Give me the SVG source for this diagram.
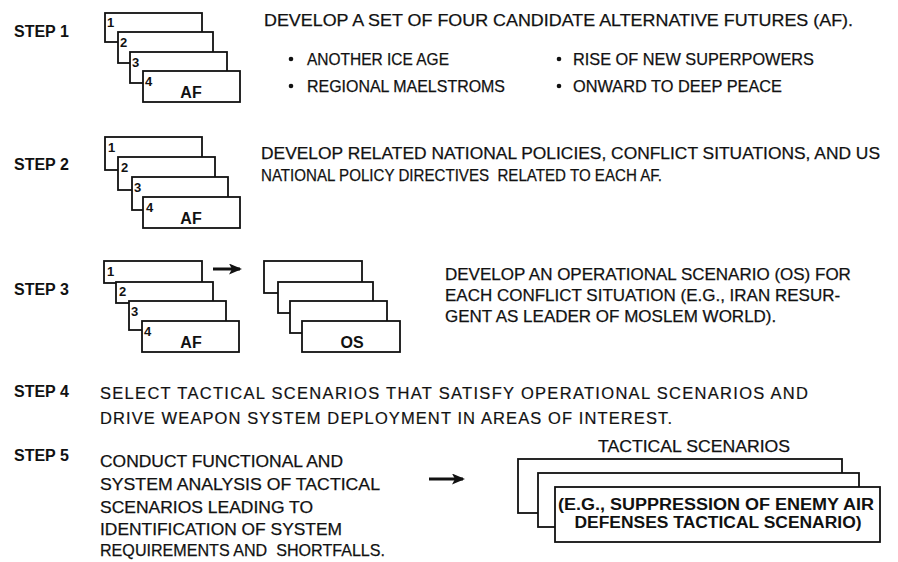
<svg xmlns="http://www.w3.org/2000/svg" width="898" height="562" viewBox="0 0 898 562">
<style>
.t{font-family:"Liberation Sans",Arial,sans-serif;font-size:17px;fill:#111;stroke:#111;stroke-width:0.25;}
.w{font-family:"Liberation Sans",Arial,sans-serif;font-size:16.5px;fill:#111;stroke:#111;stroke-width:0.2;}
.s{font-family:"Liberation Sans",Arial,sans-serif;font-size:16px;font-weight:bold;fill:#111;}
.n{font-family:"Liberation Sans",Arial,sans-serif;font-size:13px;font-weight:bold;fill:#111;}
.b{font-family:"Liberation Sans",Arial,sans-serif;font-size:16px;font-weight:bold;fill:#111;}
.c{fill:#fff;stroke:#111;stroke-width:1.8;}
.a{stroke:#111;stroke-width:3;fill:none;}
</style>
<defs>
<marker id="ah" markerWidth="13" markerHeight="11" refX="11" refY="5.5" orient="auto" markerUnits="userSpaceOnUse">
<path d="M0,0 L13,5.5 L0,11 L3,5.5 Z" fill="#111"/>
</marker>
</defs>

<g id="labels">
<text class="s" x="14" y="37">STEP 1</text>
<text class="s" x="14" y="170">STEP 2</text>
<text class="s" x="14" y="295">STEP 3</text>
<text class="s" x="14" y="397">STEP 4</text>
<text class="s" x="14" y="461">STEP 5</text>
</g>

<g id="step1-stack">
<rect class="c" x="105" y="13" width="97" height="29"/>
<rect class="c" x="118" y="32" width="95" height="31"/>
<rect class="c" x="130" y="52" width="97" height="31"/>
<rect class="c" x="143" y="71" width="97" height="31"/>
<text class="n" x="107" y="27">1</text>
<text class="n" x="120" y="47">2</text>
<text class="n" x="132" y="67">3</text>
<text class="n" x="145" y="86">4</text>
<text class="b" x="191" y="98" text-anchor="middle">AF</text>
</g>

<g id="step1-text">
<text class="t" x="264" y="26" textLength="589" lengthAdjust="spacingAndGlyphs">DEVELOP A SET OF FOUR CANDIDATE ALTERNATIVE FUTURES (AF).</text>
<circle cx="291" cy="59" r="2.3" fill="#111"/>
<text class="t" x="307" y="65" textLength="142" lengthAdjust="spacingAndGlyphs">ANOTHER ICE AGE</text>
<circle cx="291" cy="86" r="2.3" fill="#111"/>
<text class="t" x="307" y="92" textLength="198" lengthAdjust="spacingAndGlyphs">REGIONAL MAELSTROMS</text>
<circle cx="559" cy="59" r="2.3" fill="#111"/>
<text class="t" x="573" y="65" textLength="241" lengthAdjust="spacingAndGlyphs">RISE OF NEW SUPERPOWERS</text>
<circle cx="559" cy="86" r="2.3" fill="#111"/>
<text class="t" x="573" y="92" textLength="209" lengthAdjust="spacingAndGlyphs">ONWARD TO DEEP PEACE</text>
</g>

<g id="step2-stack">
<rect class="c" x="105" y="137" width="97" height="33"/>
<rect class="c" x="118" y="157" width="97" height="33"/>
<rect class="c" x="132" y="177" width="96" height="33"/>
<rect class="c" x="143" y="197" width="97" height="31"/>
<text class="n" x="108" y="152">1</text>
<text class="n" x="121" y="172">2</text>
<text class="n" x="134" y="192">3</text>
<text class="n" x="146" y="212">4</text>
<text class="b" x="191" y="224" text-anchor="middle">AF</text>
</g>

<g id="step2-text">
<text class="t" x="261" y="159" textLength="619" lengthAdjust="spacingAndGlyphs">DEVELOP RELATED NATIONAL POLICIES, CONFLICT SITUATIONS, AND US</text>
<text class="t" x="261" y="181" textLength="401" lengthAdjust="spacingAndGlyphs" xml:space="preserve">NATIONAL POLICY DIRECTIVES  RELATED TO EACH AF.</text>
</g>

<g id="step3-af-stack">
<rect class="c" x="104" y="261" width="98" height="22"/>
<rect class="c" x="116" y="282" width="97" height="21"/>
<rect class="c" x="129" y="301" width="97" height="29"/>
<rect class="c" x="142" y="321" width="97" height="31"/>
<text class="n" x="107" y="276">1</text>
<text class="n" x="119" y="296">2</text>
<text class="n" x="131" y="316">3</text>
<text class="n" x="144" y="336">4</text>
<text class="b" x="191" y="348" text-anchor="middle">AF</text>
</g>

<g id="step3-os-stack">
<rect class="c" x="264" y="261" width="98" height="32"/>
<rect class="c" x="278" y="282" width="95" height="31"/>
<rect class="c" x="290" y="301" width="97" height="32"/>
<rect class="c" x="302" y="321" width="98" height="31"/>
<text class="b" x="352" y="348" text-anchor="middle">OS</text>
</g>

<g id="step3-text">
<text class="t" x="445" y="280">DEVELOP AN OPERATIONAL SCENARIO (OS) FOR</text>
<text class="t" x="445" y="301">EACH CONFLICT SITUATION (E.G., IRAN RESUR-</text>
<text class="t" x="445" y="322">GENT AS LEADER OF MOSLEM WORLD).</text>
</g>

<g id="step4-text">
<text class="w" x="100" y="399" textLength="708" lengthAdjust="spacing">SELECT TACTICAL SCENARIOS THAT SATISFY OPERATIONAL SCENARIOS AND</text>
<text class="w" x="100" y="424" textLength="572" lengthAdjust="spacing">DRIVE WEAPON SYSTEM DEPLOYMENT IN AREAS OF INTEREST.</text>
</g>

<g id="step5-text">
<text class="t" x="100" y="467" textLength="243" lengthAdjust="spacingAndGlyphs">CONDUCT FUNCTIONAL AND</text>
<text class="t" x="100" y="490" textLength="280" lengthAdjust="spacingAndGlyphs">SYSTEM ANALYSIS OF TACTICAL</text>
<text class="t" x="100" y="513" textLength="213" lengthAdjust="spacingAndGlyphs">SCENARIOS LEADING TO</text>
<text class="t" x="100" y="535" textLength="242" lengthAdjust="spacingAndGlyphs">IDENTIFICATION OF SYSTEM</text>
<text class="t" x="100" y="556" textLength="285" lengthAdjust="spacingAndGlyphs" xml:space="preserve">REQUIREMENTS AND  SHORTFALLS.</text>
</g>

<g id="tactical-stack">
<text class="t" x="694" y="452" text-anchor="middle" textLength="192" lengthAdjust="spacingAndGlyphs">TACTICAL SCENARIOS</text>
<rect class="c" x="518" y="459" width="324" height="54"/>
<rect class="c" x="538" y="473" width="321" height="54"/>
<rect class="c" x="555" y="487" width="325" height="55"/>
<text class="b" x="716" y="510" text-anchor="middle" textLength="316" lengthAdjust="spacingAndGlyphs">(E.G., SUPPRESSION OF ENEMY AIR</text>
<text class="b" x="718" y="528" text-anchor="middle" textLength="287" lengthAdjust="spacingAndGlyphs">DEFENSES TACTICAL SCENARIO)</text>
</g>

<g id="connectors">
<line class="a" x1="213" y1="269" x2="240" y2="269" marker-end="url(#ah)"/>
<line class="a" x1="429" y1="479" x2="463" y2="479" marker-end="url(#ah)"/>
</g>
</svg>
